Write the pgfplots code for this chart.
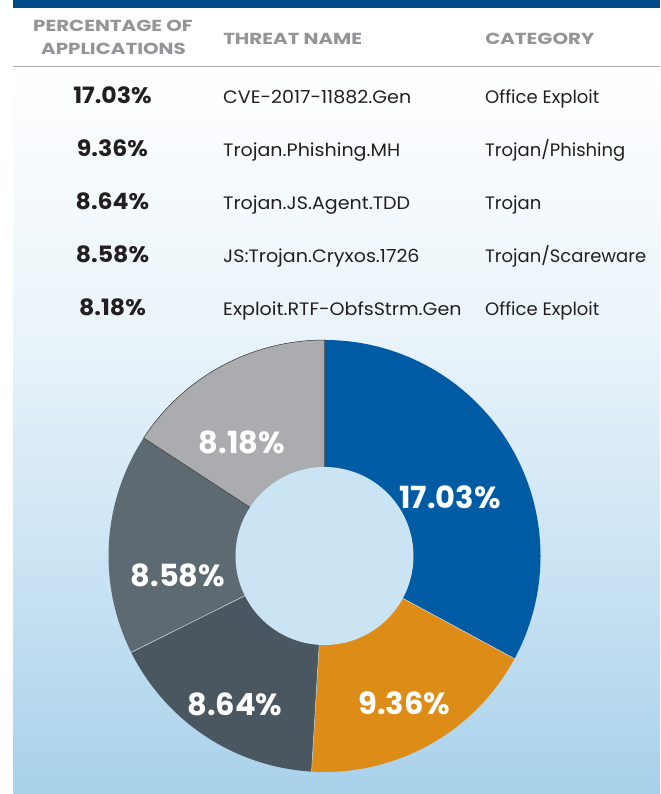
\documentclass[border=0pt]{standalone}
\usepackage{pgfplots}
\pgfplotsset{compat=1.18}
\usepackage{pgfplotstable}
\usepackage{fontspec}
\setmainfont{Poppins}
\definecolor{cBlue}{HTML}{005BA5}
\definecolor{cOrange}{HTML}{DD8C17}
\definecolor{cDark}{HTML}{4A5761}
\definecolor{cMid}{HTML}{5E6A72}
\definecolor{cGray}{HTML}{ABACB0}
\definecolor{cHole}{HTML}{CBE4F3}
\definecolor{cTxt}{HTML}{231F20}
\definecolor{cHead}{HTML}{939598}
\definecolor{cRule}{HTML}{A7A9AC}
\definecolor{cBar}{HTML}{004B87}
\definecolor{gA}{HTML}{EAF4FA}
\definecolor{gB}{HTML}{C6E1F2}
\definecolor{gC}{HTML}{A8D1EA}

\pgfplotstableread{
value col lx ly
17.03 cBlue 450 285.7
9.36 cOrange 404.5 79
8.64 cDark 235 78
8.58 cMid 178 207
8.18 cGray 241.7 340
}\piedata

\begin{document}
\begin{tikzpicture}
\begin{axis}[scale only axis, width=660pt, height=794pt,
  xmin=0, xmax=660, ymin=0, ymax=794, hide axis, clip=false]
% background
\fill[white] (axis cs:0,0) rectangle (axis cs:660,794);
\shade[top color=white,bottom color=gA] (axis cs:13.3,463.5) rectangle (axis cs:660,734);
\shade[top color=gA,bottom color=gB] (axis cs:13.3,193.5) rectangle (axis cs:660,464);
\shade[top color=gB,bottom color=gC] (axis cs:13.3,0) rectangle (axis cs:660,194);
\fill[cBar] (axis cs:13.3,785.7) rectangle (axis cs:660,794);
\draw[cRule, line width=1.3pt] (axis cs:13.3,727.3) -- (axis cs:660,727.3);
% header
\pgfplotsset{/tikz/hd/.style={inner sep=0, text=cHead, xscale=1.24, font=\fontsize{16}{16}\selectfont\bfseries}}
\node[hd, anchor=base] at (axis cs:113,762) {PERCENTAGE OF};
\node[hd, anchor=base] at (axis cs:113.5,739) {APPLICATIONS};
\node[hd, anchor=base west] at (axis cs:223,749) {THREAT NAME};
\node[hd, anchor=base west] at (axis cs:485,749) {CATEGORY};
% rows
\pgfplotsset{/tikz/pct/.style={anchor=base, inner sep=0, text=cTxt, xscale=1.05, font=\fontsize{22.5}{22.5}\selectfont\bfseries},
  /tikz/nm/.style={anchor=base west, inner sep=0, text=cTxt, xscale=1.06, font=\fontsize{18}{18}\selectfont},
  /tikz/ct/.style={anchor=base west, inner sep=0, text=cTxt, xscale=1.0, font=\fontsize{18}{18}\selectfont}}
\node[pct] at (axis cs:112.5,690.5) {17.03\%};
\node[pct] at (axis cs:112.5,637.5) {9.36\%};
\node[pct] at (axis cs:112.5,584.5) {8.64\%};
\node[pct] at (axis cs:112.5,531.5) {8.58\%};
\node[pct] at (axis cs:112.5,478) {8.18\%};
\node[nm] at (axis cs:223,690.5) {CVE-2017-11882.Gen};
\node[nm] at (axis cs:223,637.5) {Trojan.Phishing.MH};
\node[nm] at (axis cs:223,584.5) {Trojan.JS.Agent.TDD};
\node[nm] at (axis cs:223,531.5) {JS:Trojan.Cryxos.1726};
\node[nm] at (axis cs:223,478) {Exploit.RTF-ObfsStrm.Gen};
\node[ct] at (axis cs:485,690.5) {Office Exploit};
\node[ct] at (axis cs:485,637.5) {Trojan/Phishing};
\node[ct] at (axis cs:485,584.5) {Trojan};
\node[ct] at (axis cs:485,531.5) {Trojan/Scareware};
\node[ct] at (axis cs:485,478) {Office Exploit};
% donut
\pgfplotsextra{
  \gdef\tot{0}
  \foreach \i in {0,...,4}{\pgfplotstablegetelem{\i}{value}\of\piedata
    \pgfmathparse{\tot+\pgfplotsretval}\xdef\tot{\pgfmathresult}}
  \gdef\cum{0}
  \foreach \i in {0,...,4}{
    \pgfplotstablegetelem{\i}{value}\of\piedata \let\sv\pgfplotsretval
    \pgfplotstablegetelem{\i}{col}\of\piedata \let\scol\pgfplotsretval
    \pgfmathsetmacro\aone{90-(\cum/\tot)*360}
    \pgfmathparse{\cum+\sv}\xdef\cum{\pgfmathresult}
    \pgfmathsetmacro\atwo{90-(\cum/\tot)*360}
    \ifnum\i=4
      \filldraw[fill=\scol, draw=black!80, line width=0.5pt] (axis cs:324.5,238) -- ++(\aone:216pt) arc[start angle=\aone, end angle=\atwo, radius=216pt] -- cycle;
    \else
      \fill[fill=\scol] (axis cs:324.5,238) -- ++(\aone:216pt) arc[start angle=\aone, end angle=\atwo, radius=216pt] -- cycle;
    \fi
    \ifnum\i>0 \ifnum\i<4
      \draw[white!70!gray, line width=0.5pt] (axis cs:324.5,238) -- ++(\aone:216pt);
    \fi\fi
  }
  \fill[cHole] (axis cs:324.5,238) circle[radius=89pt];
  \foreach \i in {0,...,4}{
    \pgfplotstablegetelem{\i}{value}\of\piedata \let\sv\pgfplotsretval
    \pgfplotstablegetelem{\i}{lx}\of\piedata \let\lx\pgfplotsretval
    \pgfplotstablegetelem{\i}{ly}\of\piedata \let\ly\pgfplotsretval
    \node[anchor=base, inner sep=0, text=white, font=\fontsize{30.5}{30.5}\selectfont\bfseries] at (axis cs:\lx,\ly) {\sv\%};
  }
}
\end{axis}
\end{tikzpicture}
\end{document}
